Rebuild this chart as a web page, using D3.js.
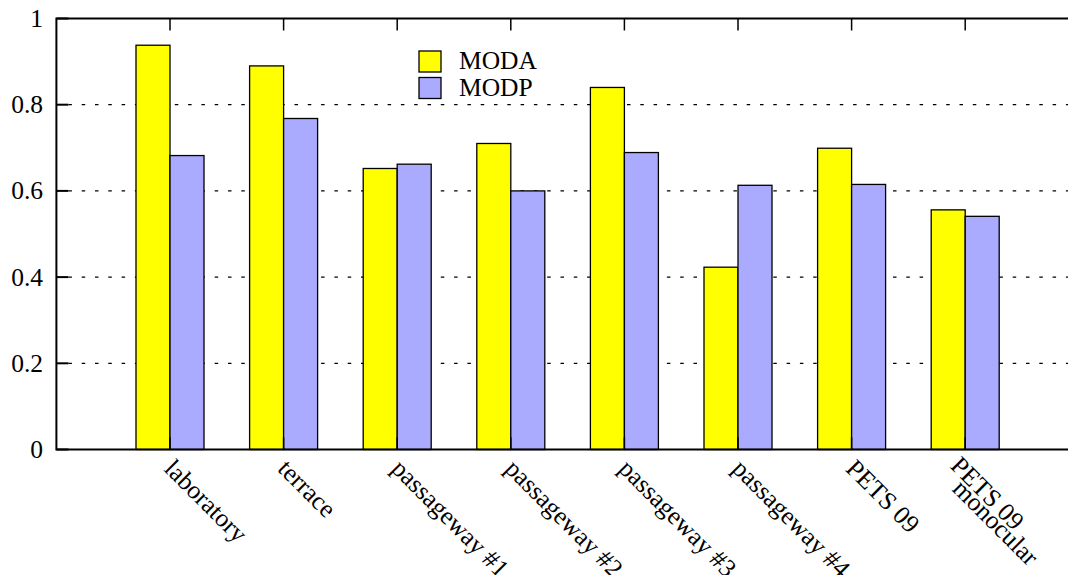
<!DOCTYPE html>
<html>
<head>
<meta charset="utf-8">
<script src="https://cdn.jsdelivr.net/npm/d3@7"></script>
<style>
  html, body { margin: 0; padding: 0; background: #fff; }
  svg { display: block; }
</style>
</head>
<body>
<svg id="chart" width="1068" height="575" font-family="'Liberation Serif', 'DejaVu Serif', serif"></svg>
<script>
// Scenes (label lines) and detection accuracy / precision scores
const categories = [
  ["laboratory"], ["terrace"], ["passageway #1"], ["passageway #2"],
  ["passageway #3"], ["passageway #4"], ["PETS 09"], ["PETS 09", "monocular"]
];
const seriesNames = ["MODA", "MODP"];
const moda = [0.938, 0.890, 0.652, 0.710, 0.840, 0.423, 0.699, 0.556];
const modp = [0.682, 0.768, 0.662, 0.600, 0.689, 0.613, 0.615, 0.541];
const yTicks = [0, 0.2, 0.4, 0.6, 0.8, 1];
const colors = ["#ffff00", "#aaaaff"];

(function draw() {
  const svg = d3.select("#chart");
  const FONT = "'Liberation Serif', 'DejaVu Serif', serif";
  const plotLeft = 56.4, plotTop = 18.5, plotBottom = 449.5;
  const step = 113.6;
  const fs = 25.5;

  // x positions by category index; the frame spans index -1 .. n
  const x = d3.scaleLinear().domain([-1, categories.length])
    .range([plotLeft, plotLeft + step * (categories.length + 1)]);
  const y = d3.scaleLinear().domain([0, 1]).range([plotBottom, plotTop]);
  const barW = 34;
  const plotRight = x(categories.length);

  // dotted grid lines
  svg.append("g").selectAll("line").data(yTicks.filter(t => t > 0 && t < 1)).join("line")
    .attr("x1", plotLeft + 12).attr("x2", plotRight)
    .attr("y1", d => y(d)).attr("y2", d => y(d))
    .attr("stroke", "#000").attr("stroke-width", 1.2)
    .attr("stroke-dasharray", "3.5,9.8");

  // bars
  const data = [moda, modp];
  const g = svg.append("g");
  data.forEach((vals, s) => {
    g.selectAll(null).data(vals).join("rect")
      .attr("x", (d, i) => x(i) - barW + s * barW)
      .attr("y", d => y(d))
      .attr("width", barW)
      .attr("height", d => y(0) - y(d))
      .attr("fill", colors[s])
      .attr("stroke", "#000").attr("stroke-width", 1.3);
  });

  // frame (left, top, bottom)
  const axisG = svg.append("g").attr("stroke", "#000").attr("stroke-width", 2).attr("fill", "none");
  axisG.append("path").attr("d", `M${plotRight},${plotTop}H${plotLeft}V${plotBottom}H${plotRight}`);

  // y ticks pointing inward
  axisG.selectAll(null).data(yTicks).join("line")
    .attr("x1", plotLeft).attr("x2", plotLeft + 12)
    .attr("y1", d => y(d)).attr("y2", d => y(d));

  // x ticks on top and bottom edges
  const idx = d3.range(categories.length);
  axisG.selectAll(null).data(idx).join("line")
    .attr("x1", d => x(d)).attr("x2", d => x(d))
    .attr("y1", plotTop).attr("y2", plotTop + 12).attr("stroke-width", 1.5);
  axisG.selectAll(null).data(idx).join("line")
    .attr("x1", d => x(d)).attr("x2", d => x(d))
    .attr("y1", plotBottom).attr("y2", plotBottom - 12).attr("stroke-width", 1.5);

  // y tick labels
  svg.append("g").selectAll("text").data(yTicks).join("text")
    .attr("x", 43).attr("y", d => y(d))
    .attr("dy", "0.33em")
    .attr("text-anchor", "end")
    .attr("font-family", FONT)
    .attr("font-size", fs)
    .text(d => d3.format("~g")(d));

  // rotated category labels
  const lab = svg.append("g");
  categories.forEach((lines, i) => {
    const multi = lines.length > 1;
    lines.forEach((ln, k) => {
      const ax = x(i) + (multi ? -16 + k * 2 : -7);
      const ay = (multi ? 467 : 470) + k * 23;
      lab.append("text")
        .attr("transform", `translate(${ax},${ay}) rotate(45)`)
        .attr("font-family", FONT)
        .attr("font-size", fs)
        .text(ln);
    });
  });

  // legend
  const leg = svg.append("g");
  seriesNames.forEach((name, s) => {
    leg.append("rect")
      .attr("x", 419).attr("y", 51 + s * 26.5)
      .attr("width", 22).attr("height", 21)
      .attr("fill", colors[s]).attr("stroke", "#000").attr("stroke-width", 1.3);
    leg.append("text")
      .attr("x", 459).attr("y", 68.5 + s * 27)
      .attr("font-family", FONT)
      .attr("font-size", fs)
      .text(name);
  });
})();
</script>
</body>
</html>
